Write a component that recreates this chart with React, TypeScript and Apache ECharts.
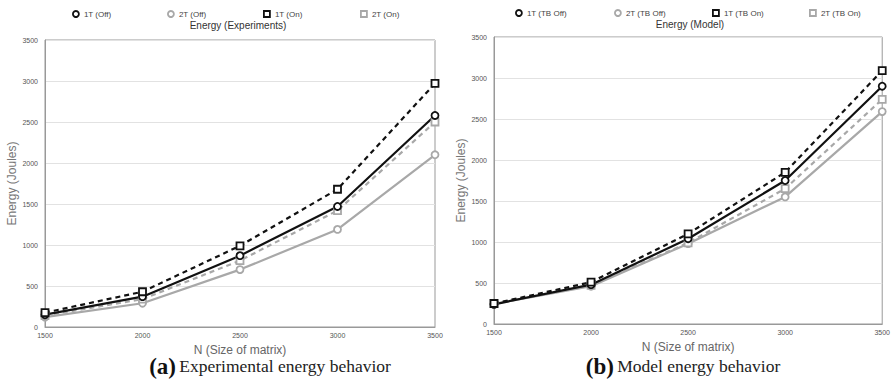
import React, { useEffect, useRef } from "react";
import * as echarts from "echarts";

const xValues = [1500, 2000, 2500, 3000, 3500];

// Left: Energy (Experiments)
const expNames = ["1T (Off)", "2T (Off)", "1T (On)", "2T (On)"];
const exp1TOff = [150, 370, 870, 1470, 2580];
const exp2TOff = [120, 290, 700, 1190, 2100];
const exp1TOn = [175, 430, 990, 1680, 2970];
const exp2TOn = [140, 340, 810, 1420, 2500];

// Right: Energy (Model)
const modNames = ["1T (TB Off)", "2T (TB Off)", "1T (TB On)", "2T (TB On)"];
const mod1TOff = [240, 480, 1040, 1750, 2900];
const mod2TOff = [245, 460, 980, 1550, 2590];
const mod1TOn = [250, 510, 1100, 1850, 3090];
const mod2TOn = [248, 470, 990, 1650, 2740];

const BLACK = "#111";
const GRAY = "#a8a8a8";
const SANS = "'Liberation Sans', Arial, sans-serif";
const SERIF = "'Liberation Serif', 'DejaVu Serif', serif";

function pairs(vals: number[]) {
  return xValues.map((x, i) => [x, vals[i]]);
}

function mkSeries(name: string, vals: number[], gi: number, color: string, dashed: boolean, symbol: string) {
  return {
    name,
    type: "line",
    xAxisIndex: gi,
    yAxisIndex: gi,
    data: pairs(vals),
    symbol,
    symbolSize: 7,
    showSymbol: true,
    lineStyle: { color, width: 2.2, type: dashed ? [5, 4] : "solid" },
    itemStyle: { color: "#fff", borderColor: color, borderWidth: 1.8 },
    emphasis: { disabled: true },
  };
}

function mkLegend(name: string, left: number, top: number, color: string, icon: string) {
  return {
    data: [name],
    left,
    top,
    padding: 0,
    icon,
    itemWidth: 6,
    itemHeight: 6,
    itemGap: 0,
    selectedMode: false,
    itemStyle: { color: "#fff", borderColor: color, borderWidth: 1.8 },
    textStyle: { fontSize: 8, color: "#444", fontFamily: SANS },
  };
}

const plain = (v: number) => String(v);

function mkX(gi: number) {
  return {
    type: "value",
    gridIndex: gi,
    min: 1500,
    max: 3500,
    interval: 500,
    name: "N (Size of matrix)",
    nameLocation: "middle",
    nameGap: 16,
    nameTextStyle: { fontSize: 12, color: "#666", fontFamily: SANS },
    axisLine: { show: true, lineStyle: { color: "#999" } },
    axisTick: { show: false },
    splitLine: { show: false },
    axisLabel: { fontSize: 7, color: "#555", fontFamily: SANS, margin: 5, formatter: plain },
  };
}

function mkY(gi: number) {
  return {
    type: "value",
    gridIndex: gi,
    min: 0,
    max: 3500,
    interval: 500,
    name: "Energy (Joules)",
    nameLocation: "middle",
    nameGap: 27,
    nameTextStyle: { fontSize: 12, color: "#777", fontFamily: SANS },
    axisLine: { show: true, lineStyle: { color: "#999" } },
    axisTick: { show: false },
    splitLine: { show: true, lineStyle: { color: "#e2e2e2", width: 1 } },
    axisLabel: { fontSize: 7, color: "#555", fontFamily: SANS, margin: 7, formatter: plain },
  };
}

export default function App() {
  const ref = useRef<HTMLDivElement>(null);
  useEffect(() => {
    document.body.style.margin = "0";
    const chart = echarts.init(ref.current!, undefined, { renderer: "svg" });
    const option: any = {
      animation: false,
      backgroundColor: "#fff",
      grid: [
        { left: 45, top: 40, width: 390, height: 287, show: true, borderColor: "#999", borderWidth: 1, containLabel: false },
        { left: 494, top: 37, width: 389, height: 287, show: true, borderColor: "#999", borderWidth: 1, containLabel: false },
      ],
      xAxis: [mkX(0), mkX(1)],
      yAxis: [mkY(0), mkY(1)],
      legend: [
        mkLegend(expNames[0], 72, 10, BLACK, "circle"),
        mkLegend(expNames[1], 167, 10, GRAY, "circle"),
        mkLegend(expNames[2], 263, 10, BLACK, "rect"),
        mkLegend(expNames[3], 360, 10, GRAY, "rect"),
        mkLegend(modNames[0], 515, 9, BLACK, "circle"),
        mkLegend(modNames[1], 614, 9, GRAY, "circle"),
        mkLegend(modNames[2], 712, 9, BLACK, "rect"),
        mkLegend(modNames[3], 809, 9, GRAY, "rect"),
      ],
      series: [
        mkSeries(expNames[1], exp2TOff, 0, GRAY, false, "circle"),
        mkSeries(expNames[3], exp2TOn, 0, GRAY, true, "rect"),
        mkSeries(expNames[0], exp1TOff, 0, BLACK, false, "circle"),
        mkSeries(expNames[2], exp1TOn, 0, BLACK, true, "rect"),
        mkSeries(modNames[1], mod2TOff, 1, GRAY, false, "circle"),
        mkSeries(modNames[3], mod2TOn, 1, GRAY, true, "rect"),
        mkSeries(modNames[0], mod1TOff, 1, BLACK, false, "circle"),
        mkSeries(modNames[2], mod1TOn, 1, BLACK, true, "rect"),
      ],
      graphic: [
        {
          type: "text",
          x: 238,
          y: 25,
          style: { text: "Energy (Experiments)", fontSize: 10, fill: "#333", fontFamily: SANS, align: "center", verticalAlign: "middle" },
        },
        {
          type: "text",
          x: 690,
          y: 24,
          style: { text: "Energy (Model)", fontSize: 10, fill: "#333", fontFamily: SANS, align: "center", verticalAlign: "middle" },
        },
        {
          type: "text",
          x: 270,
          y: 366,
          style: {
            text: "{b|(a)} {t|Experimental energy behavior}",
            align: "center",
            verticalAlign: "middle",
            rich: {
              b: { fontSize: 23, fontWeight: "bold", fontFamily: SERIF, fill: "#111" },
              t: { fontSize: 17.5, fontFamily: SERIF, fill: "#222" },
            },
          },
        },
        {
          type: "text",
          x: 683,
          y: 366,
          style: {
            text: "{b|(b)} {t|Model energy behavior}",
            align: "center",
            verticalAlign: "middle",
            rich: {
              b: { fontSize: 23, fontWeight: "bold", fontFamily: SERIF, fill: "#111" },
              t: { fontSize: 17.5, fontFamily: SERIF, fill: "#222" },
            },
          },
        },
      ],
    };
    chart.setOption(option);
    return () => chart.dispose();
  }, []);
  return <div ref={ref} style={{ width: 893, height: 380 }} />;
}
